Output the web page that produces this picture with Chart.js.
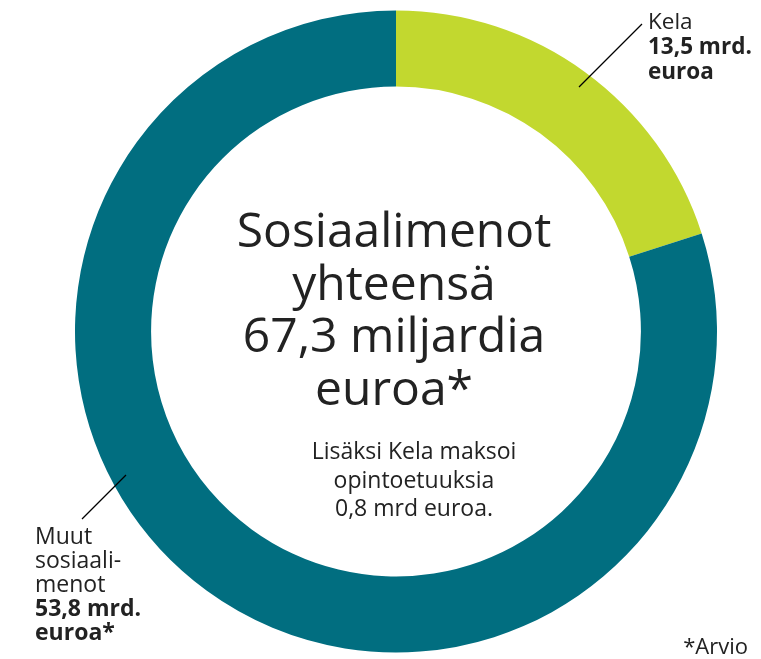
<!DOCTYPE html>
<html><head><meta charset="utf-8">
<script src="https://cdn.jsdelivr.net/npm/chart.js@4.4.0/dist/chart.umd.min.js"></script>
<style>html,body{margin:0;padding:0;background:#fff}#wrap{width:761px;height:659px;position:relative}</style>
</head><body><div id="wrap"><canvas id="c" width="761" height="659"></canvas></div>
<script>
const categories = ["Kela", "Muut sosiaalimenot"];
const values = [13.5, 53.8];
const colors = ["#c2d82f", "#016e80"];
const centerTitle = ["Sosiaalimenot", "yhteensä", "67,3 miljardia", "euroa*"];
const centerNote = ["Lisäksi Kela maksoi", "opintoetuuksia", "0,8 mrd euroa."];
const kelaLabel = [["Kela", false], ["13,5 mrd.", true], ["euroa", true]];
const muutLabel = [["Muut", false], ["sosiaali-", false], ["menot", false], ["53,8 mrd.", true], ["euroa*", true]];
const footnote = "*Arvio";

const FONT = '"Open Sans", sans-serif';
const textColor = '#222';

const labelsPlugin = {
  id: 'labels',
  afterDraw(chart) {
    const ctx = chart.ctx;
    const arc = chart.getDatasetMeta(0).data[0];
    const cx = arc.x, cy = arc.y;
    ctx.save();
    ctx.fillStyle = textColor;
    ctx.textBaseline = 'alphabetic';
    ctx.textAlign = 'center';
    ctx.font = '48px ' + FONT;
    centerTitle.forEach((t, i) => ctx.fillText(t, cx - 2, 247 + i * 52.7));
    ctx.font = '23px ' + FONT;
    centerNote.forEach((t, i) => ctx.fillText(t, cx + 18, 459 + i * 28.5));
    ctx.textAlign = 'left';
    kelaLabel.forEach(([t, b], i) => {
      ctx.font = (b ? 'bold ' : '') + '22.5px ' + FONT;
      ctx.fillText(t, 648, 29 + i * 25);
    });
    muutLabel.forEach(([t, b], i) => {
      ctx.font = (b ? 'bold ' : '') + '23px ' + FONT;
      ctx.fillText(t, 35, 544 + i * 24);
    });
    ctx.textAlign = 'right';
    ctx.font = '22px ' + FONT;
    ctx.fillText(footnote, 748, 654);
    ctx.strokeStyle = '#000';
    ctx.lineWidth = 1.3;
    ctx.beginPath();
    ctx.moveTo(642, 24); ctx.lineTo(579, 87);
    ctx.moveTo(126, 475); ctx.lineTo(82, 519);
    ctx.stroke();
    ctx.restore();
  }
};

new Chart(document.getElementById('c'), {
  type: 'doughnut',
  data: {
    labels: categories,
    datasets: [{ data: values, backgroundColor: colors, borderWidth: 0, hoverOffset: 0 }]
  },
  options: {
    responsive: false,
    animation: false,
    cutout: '76.3%',
    layout: { padding: { left: 75, right: 44, top: 10.5, bottom: 6.5 } },
    plugins: { legend: { display: false }, tooltip: { enabled: false } }
  },
  plugins: [labelsPlugin]
});
</script></body></html>
